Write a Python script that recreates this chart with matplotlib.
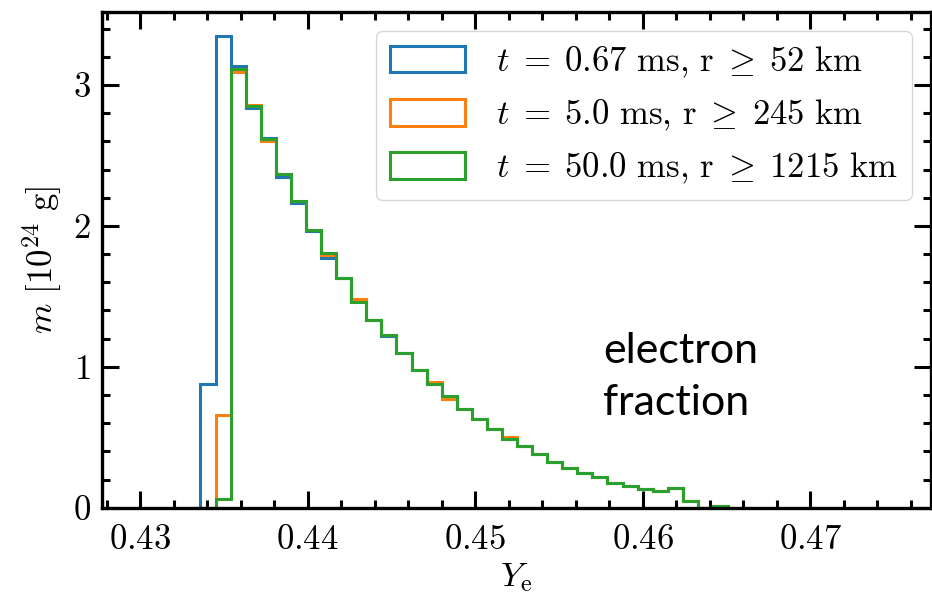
import matplotlib
matplotlib.use("Agg")
from matplotlib import pyplot as plt
from matplotlib.ticker import MultipleLocator
import numpy as np

# bins in Y_e
bin_lo = 0.4336
bin_width = 0.0009
n_bins = 35

labels = [r"$t\;=\;0.67\ \mathrm{ms},\,\mathrm{r}\;\geq\;52\ \mathrm{km}$",
          r"$t\;=\;5.0\ \mathrm{ms},\,\mathrm{r}\;\geq\;245\ \mathrm{km}$",
          r"$t\;=\;50.0\ \mathrm{ms},\,\mathrm{r}\;\geq\;1215\ \mathrm{km}$"]

# mass per bin [1e24 g]
m_067 = [0.88, 3.35, 3.135, 2.835, 2.625, 2.35, 2.165, 1.965, 1.775, 1.63, 1.47,
         1.33, 1.22, 1.10, 0.975, 0.88, 0.79, 0.70, 0.63, 0.555, 0.49, 0.44,
         0.38, 0.325, 0.285, 0.245, 0.215, 0.175, 0.155, 0.13, 0.115, 0.14,
         0.05, 0.0, 0.015]
m_5 = [0.0, 0.66, 3.09, 2.86, 2.60, 2.37, 2.18, 1.97, 1.79, 1.63, 1.48,
       1.33, 1.225, 1.10, 0.975, 0.89, 0.77, 0.70, 0.63, 0.555, 0.50, 0.44,
       0.38, 0.325, 0.285, 0.245, 0.215, 0.175, 0.155, 0.13, 0.115, 0.14,
       0.05, 0.0, 0.015]
m_50 = [0.0, 0.06, 3.11, 2.85, 2.615, 2.37, 2.18, 1.97, 1.81, 1.63, 1.46,
        1.33, 1.225, 1.10, 0.975, 0.88, 0.79, 0.70, 0.63, 0.555, 0.49, 0.44,
        0.38, 0.325, 0.285, 0.245, 0.215, 0.175, 0.155, 0.13, 0.115, 0.14,
        0.05, 0.0, 0.015]

edges = bin_lo + bin_width * np.arange(n_bins + 1)
centers = 0.5 * (edges[:-1] + edges[1:])

plt.rcParams.update({
    "font.family": "serif",
    "font.serif": ["cmr10"],
    "mathtext.fontset": "cm",
    "axes.formatter.use_mathtext": True,
    "font.size": 25,
})

fig = plt.figure(figsize=(9.32, 5.94), dpi=100)
ax = fig.add_axes([0.1091, 0.1453, 0.8895, 0.835])

for vals, lab, col in zip([m_067, m_5, m_50], labels, ["C0", "C1", "C2"]):
    ax.hist(centers, bins=edges, weights=vals, histtype="step",
            color=col, lw=2.2, label=lab)

ax.set_xlim(0.4277, 0.4772)
ax.set_ylim(0, 3.52)
ax.xaxis.set_major_locator(MultipleLocator(0.01))
ax.xaxis.set_minor_locator(MultipleLocator(0.002))
ax.yaxis.set_major_locator(MultipleLocator(1))
ax.yaxis.set_minor_locator(MultipleLocator(0.2))
ax.tick_params(which="both", direction="in", top=True, right=True, width=2.2)
ax.tick_params(which="major", length=12, pad=8)
ax.tick_params(axis="x", which="major", pad=12)
ax.tick_params(which="minor", length=6)
for s in ax.spines.values():
    s.set_linewidth(2.4)

ax.set_xlabel(r"$Y_\mathrm{e}$", labelpad=4)
ax.set_ylabel(r"$m\ [10^{24}\ \mathrm{g}]$", labelpad=6)

ax.legend(loc="upper right", handlelength=2.15, handleheight=0.8,
          handletextpad=0.9, labelspacing=0.52, borderaxespad=0.55,
          fontsize=25)

# slide annotation
ax.text(0.605, 0.355, "electron\nfraction", transform=ax.transAxes,
        family="Lato", fontsize=31, va="top", ha="left", linespacing=1.45)

fig.savefig("out.png", dpi=100)
